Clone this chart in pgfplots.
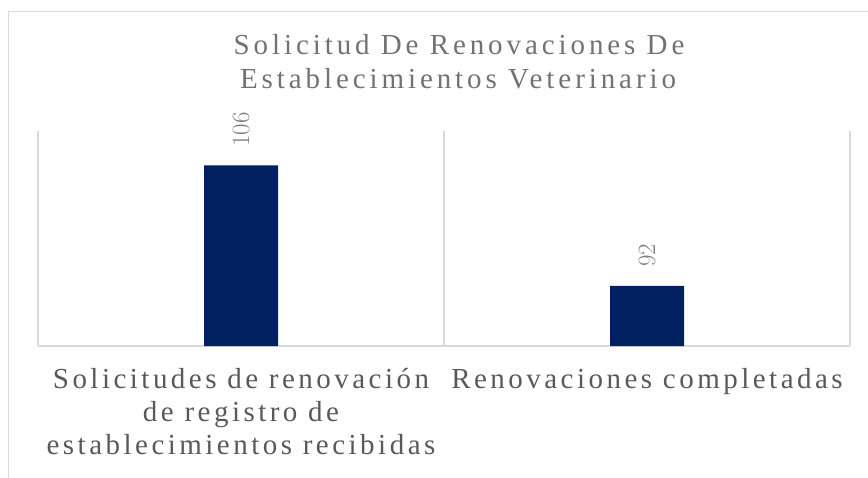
\documentclass[border=0pt]{standalone}
\usepackage{fontspec}
\setmainfont{Liberation Serif}
\newfontfamily\spaced[LetterSpace=13.5]{Liberation Serif}
\newfontfamily\spacedlab[LetterSpace=12]{Liberation Serif}
\usepackage{pgfplots}
\pgfplotsset{compat=1.18}
\definecolor{barblue}{HTML}{002060}
\definecolor{titlegray}{HTML}{767171}
\definecolor{labelgray}{HTML}{595959}
\definecolor{numgray}{HTML}{7F7F7F}
\definecolor{gridgray}{HTML}{D9D9D9}
\begin{document}
\begin{tikzpicture}
\path[use as bounding box] (0,0) rectangle (868pt,-477pt);
\draw[gridgray, line width=1.2pt] (8.5pt,-11.5pt) rectangle (900pt,-520pt);
\node[anchor=base, text=titlegray, font=\spaced\fontsize{29}{34}\selectfont, inner sep=0pt] at (459pt,-54pt) {Solicitud De Renovaciones De};
\node[anchor=base, text=titlegray, font=\spaced\fontsize{29}{34}\selectfont, inner sep=0pt] at (458pt,-88pt) {Establecimientos Veterinario};
\begin{axis}[
  at={(38pt,-346pt)}, anchor=south west,
  scale only axis, width=812pt, height=215pt,
  xmin=-0.5, xmax=1.5, ymin=85, ymax=110,
  axis line style={draw=none},
  ytick=\empty,
  xtick={0,1},
  major tick length=0pt,
  xticklabels={{Solicitudes de renovación\\de registro de\\establecimientos recibidas},{Renovaciones completadas}},
  xticklabel style={align=center, text=labelgray, font=\spacedlab\fontsize{29}{33}\selectfont, inner sep=0pt, yshift=-22pt},
  ybar, bar width=74pt,
  clip=false,
  nodes near coords,
  every node near coord/.append style={rotate=90, anchor=west, inner sep=0pt, outer xsep=19pt, text=numgray, font=\fontsize{29}{32}\selectfont},
]
\draw[gridgray, line width=1.2pt] (axis cs:-0.5,85) -- (axis cs:1.5,85);
\draw[gridgray, line width=1.2pt] (axis cs:-0.5,85) -- (axis cs:-0.5,110);
\draw[gridgray, line width=1.2pt] (axis cs:0.5,85) -- (axis cs:0.5,110);
\draw[gridgray, line width=1.2pt] (axis cs:1.5,85) -- (axis cs:1.5,110);
\addplot[fill=barblue, draw=none] coordinates {(0,106) (1,92)};
\end{axis}
\end{tikzpicture}
\end{document}
